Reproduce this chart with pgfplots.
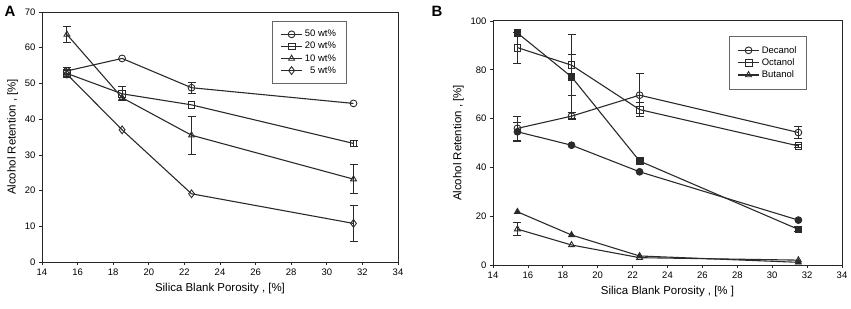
\documentclass[border=0pt]{standalone}
\usepackage{fontspec}
\setmainfont{Liberation Sans}
\usepackage{pgfplots}
\pgfplotsset{compat=1.18}
\definecolor{ln}{HTML}{2A2A2A}
\begin{document}
\begin{tikzpicture}
\path[use as bounding box] (0,0) rectangle (851bp,309bp);
\pgfplotsset{
  every axis/.append style={
    scale only axis,
    font=\fontsize{11.5}{13}\selectfont,
    ticklabel style={font=\fontsize{9.5}{10}\selectfont},
    /pgf/number format/assume math mode=true,
    tick align=outside, xtick pos=bottom, ytick pos=left,
    major tick length=3bp,
    axis line style={line width=1pt,color=black!85},
    every tick/.style={black!85,line width=0.7pt},
    xmin=14, xmax=34, xtick={14,16,...,34},
    xlabel={Silica Blank Porosity , [\%]},
    ylabel={Alcohol Retention , [\%]},
    xlabel style={yshift=-1bp},
    ylabel style={yshift=0bp},
    legend cell align=left,
    legend style={font=\fontsize{9.5}{10}\selectfont, draw=black!60, line width=0.6pt,
      inner xsep=8bp, inner ysep=7bp, row sep=0bp},
    legend image code/.code={
      \draw[mark repeat=2,mark phase=2] plot coordinates {(0cm,0cm) (0.38cm,0cm) (0.76cm,0cm)};},
  },
  ser/.style={ln, line width=1.1pt, mark size=3.4bp,
    mark options={fill=white, line width=0.9pt, solid}},
  fser/.style={ser, mark options={fill=ln, line width=0.9pt}},
  err/.style={draw=none, mark=none, forget plot,
    error bars/y dir=both, error bars/y explicit,
    error bars/error bar style={draw=ln, line width=0.9pt, solid},
    error bars/error mark options={draw=ln, rotate=90, mark size=4bp, line width=0.9pt}},
}
\begin{axis}[at={(42bp,47bp)}, anchor=south west, width=356bp, height=250bp,
  ymin=0, ymax=70, ytick={0,10,...,70},
  legend style={at={(0.646,0.964)}, anchor=north west}]
% error bars (drawn first, under the marks)
\addplot[err] coordinates {(15.4,53.5) +- (0,1.0) (22.4,48.8) +- (0,1.6)};
\addplot[err] coordinates {(15.4,52.8) +- (0,1.0) (18.5,47.1) +- (0,2.0) (31.5,33.2) +- (0,0.8)};
\addplot[err] coordinates {(15.4,63.7) +- (0,2.3) (22.4,35.5) +- (0,5.3) (31.5,23.2) +- (0,4.0)};
\addplot[err] coordinates {(31.5,10.8) +- (0,5.0)};
% series
\addplot[ser, mark=o] coordinates {(15.4,53.5) (18.5,57.0) (22.4,48.8) (31.5,44.4)};
\addlegendentry{50 wt\%}
\addplot[ser, mark=square] coordinates {(15.4,52.8) (18.5,47.1) (22.4,44.0) (31.5,33.2)};
\addlegendentry{20 wt\%}
\addplot[ser, mark=triangle] coordinates {(15.4,63.7) (18.5,46.0) (22.4,35.5) (31.5,23.2)};
\addlegendentry{10 wt\%}
\addplot[ser, mark=diamond, mark size=3.9bp] coordinates {(15.4,52.6) (18.5,37.0) (22.4,19.1) (31.5,10.8)};
\addlegendentry{\ \ 5 wt\%}
\end{axis}
\begin{axis}[at={(493bp,44bp)}, anchor=south west, width=349bp, height=244bp,
  ymin=0, ymax=100, ytick={0,20,...,100},
  xlabel={Silica Blank Porosity , [\% ]},
  legend style={at={(0.676,0.939)}, anchor=north west, inner ysep=8bp}]
% error bars
\addplot[err] coordinates {(15.4,56.0) +- (0,5.0) (18.5,61.0) +- (0,1.5) (22.4,69.6) +- (0,8.8) (31.5,54.3) +- (0,2.3)};
\addplot[err] coordinates {(15.4,89.1) +- (0,6.3) (18.5,81.9) +- (0,12.5) (22.4,63.7) +- (0,3.0) (31.5,48.8) +- (0,0.8)};
\addplot[err] coordinates {(15.4,14.7) +- (0,2.7)};
\addplot[err] coordinates {(15.4,54.6) +- (0,4.0)};
\addplot[err] coordinates {(18.5,77.1) += (0,9.0) -= (0,17.0) (31.5,14.6) +- (0,1.0)};
% series
\addplot[ser, mark=o] coordinates {(15.4,56.0) (18.5,61.0) (22.4,69.6) (31.5,54.3)};
\addlegendentry{Decanol}
\addplot[ser, mark=square] coordinates {(15.4,89.1) (18.5,81.9) (22.4,63.7) (31.5,48.8)};
\addlegendentry{Octanol}
\addplot[ser, mark=triangle] coordinates {(15.4,14.7) (18.5,8.2) (22.4,3.0) (31.5,2.0)};
\addlegendentry{Butanol}
\addplot[fser, mark=*, forget plot] coordinates {(15.4,54.6) (18.5,49.1) (22.4,38.2) (31.5,18.4)};
\addplot[fser, mark=square*, forget plot] coordinates {(15.4,95.1) (18.5,77.1) (22.4,42.6) (31.5,14.6)};
\addplot[fser, mark=triangle*, forget plot] coordinates {(15.4,21.8) (18.5,12.3) (22.4,3.7) (31.5,1.1)};
\end{axis}
\node[font=\fontsize{15}{15}\selectfont\bfseries] at (10bp,298bp) {A};
\node[font=\fontsize{15}{15}\selectfont\bfseries] at (437bp,298bp) {B};
\end{tikzpicture}
\end{document}
